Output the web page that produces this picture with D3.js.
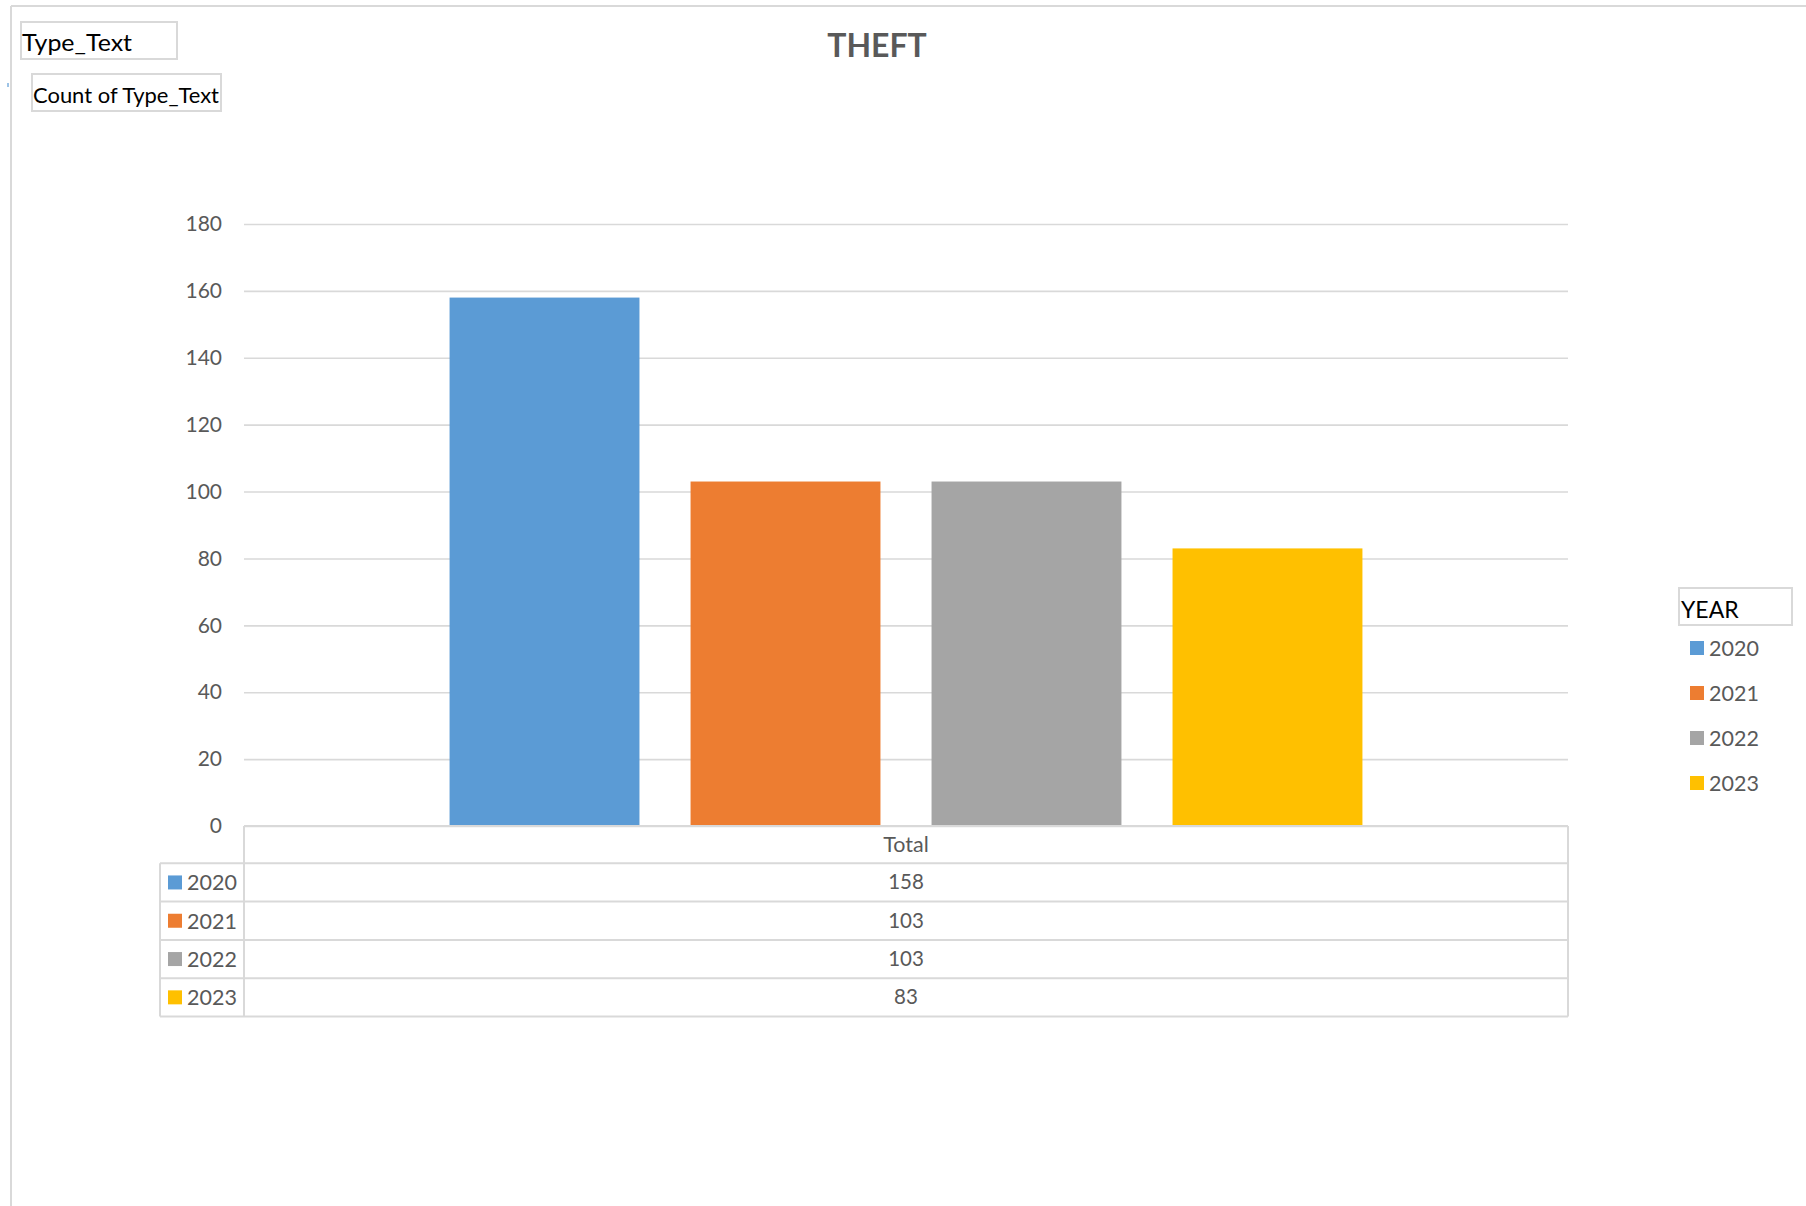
<!DOCTYPE html>
<html><head><meta charset="utf-8">
<script src="https://cdn.jsdelivr.net/npm/d3@7"></script>
<style>body{margin:0;background:#fff}svg{display:block}text{font-family:Lato,"Open Sans",sans-serif}</style>
</head><body>
<script>
const categories = ["Total"];
const years = ["2020","2021","2022","2023"];
const values = [158, 103, 103, 83];
const yTicks = [0,20,40,60,80,100,120,140,160,180];
const colors = ["#5B9BD5","#ED7D31","#A5A5A5","#FFC000"];

const W = 1806, H = 1206;
const svg = d3.select("body").append("svg").attr("width", W).attr("height", H);
const grid = "#d9d9d9", txt = "#595959";

// chart frame
svg.append("line").attr("x1",11).attr("x2",W).attr("y1",6).attr("y2",6).attr("stroke",grid).attr("stroke-width",2);
svg.append("line").attr("x1",11).attr("x2",11).attr("y1",6).attr("y2",H).attr("stroke",grid).attr("stroke-width",2);
svg.append("rect").attr("x",7).attr("y",83).attr("width",2).attr("height",4).attr("fill","#9dc3e6");

const pLeft = 244, pRight = 1568, pTop = 224, pBottom = 826;
const y = d3.scaleLinear().domain([0,180]).range([pBottom, pTop]);
const x0 = d3.scaleBand().domain(categories).range([pLeft, pRight]);
const x1 = d3.scaleBand().domain(years).range([0, x0.bandwidth()]).paddingInner(0.212).paddingOuter(0.853);

// gridlines + ticks
const yAxis = d3.axisLeft(y).tickValues(yTicks).tickSize(-(pRight-pLeft)).tickPadding(22);
const ga = svg.append("g").attr("transform",`translate(${pLeft},0)`).call(yAxis);
ga.select(".domain").remove();
ga.selectAll(".tick line").attr("stroke",grid).attr("stroke-width",1.6);
ga.selectAll(".tick text").attr("fill",txt).style("font-size","21px").style("font-family","Lato");

// bars
svg.append("g").selectAll("rect").data(years).join("rect")
  .attr("x", d => x0("Total") + x1(d))
  .attr("width", x1.bandwidth())
  .attr("y", (d,i) => y(values[i]))
  .attr("height", (d,i) => pBottom - y(values[i]))
  .attr("fill", (d,i) => colors[i]);

// title
svg.append("text").attr("x",877).attr("y",57).attr("text-anchor","middle")
  .attr("fill",txt).style("font-size","32px").style("font-weight","bold").text("THEFT");

// field buttons
svg.append("rect").attr("x",21).attr("y",22).attr("width",156).attr("height",37).attr("fill","none").attr("stroke",grid).attr("stroke-width",2);
svg.append("text").attr("x",22).attr("y",51).attr("fill","#000").style("font-size","24px")
  .attr("textLength",110).attr("lengthAdjust","spacingAndGlyphs").text("Type_Text");
svg.append("rect").attr("x",32).attr("y",74).attr("width",189).attr("height",37).attr("fill","none").attr("stroke",grid).attr("stroke-width",2);
svg.append("text").attr("x",33).attr("y",103).attr("fill","#000").style("font-size","21px")
  .attr("textLength",186).attr("lengthAdjust","spacingAndGlyphs").text("Count of Type_Text");

// legend
svg.append("rect").attr("x",1679).attr("y",588).attr("width",113).attr("height",37).attr("fill","none").attr("stroke",grid).attr("stroke-width",2);
svg.append("text").attr("x",1681).attr("y",618).attr("fill","#000").style("font-size","23px").text("YEAR");
const lg = svg.append("g").selectAll("g").data(years).join("g")
  .attr("transform",(d,i)=>`translate(1690,${641 + i*45})`);
lg.append("rect").attr("width",14).attr("height",14).attr("fill",(d,i)=>colors[i]);
lg.append("text").attr("x",19).attr("y",15).attr("fill",txt).style("font-size","21.5px").text(d=>d);

// data table
const rowH = 38.3, tTop = pBottom, hdrB = 863.3, tLeft = 160;
const tl = svg.append("g").attr("stroke",grid).attr("stroke-width",2);
tl.append("line").attr("x1",pLeft).attr("x2",pRight).attr("y1",tTop).attr("y2",tTop);
for (let k=0;k<=years.length;k++){
  const yy = hdrB + k*rowH;
  tl.append("line").attr("x1",tLeft).attr("x2",pRight).attr("y1",yy).attr("y2",yy);
}
const tBot = hdrB + years.length*rowH;
tl.append("line").attr("x1",pLeft).attr("x2",pLeft).attr("y1",tTop).attr("y2",tBot);
tl.append("line").attr("x1",pRight).attr("x2",pRight).attr("y1",tTop).attr("y2",tBot);
tl.append("line").attr("x1",tLeft).attr("x2",tLeft).attr("y1",hdrB).attr("y2",tBot);

const cx = x0("Total") + x0.bandwidth()/2;
svg.append("text").attr("x",cx).attr("y",(tTop+hdrB)/2+7).attr("text-anchor","middle").attr("fill",txt).style("font-size","21.5px").text(categories[0]);
const rows = svg.append("g").selectAll("g").data(years).join("g")
  .attr("transform",(d,i)=>`translate(0,${hdrB + i*rowH})`);
rows.append("rect").attr("x",168).attr("y",rowH/2-7).attr("width",14).attr("height",14).attr("fill",(d,i)=>colors[i]);
rows.append("text").attr("x",187).attr("y",rowH/2+8).attr("fill",txt).style("font-size","21.5px").text(d=>d);
rows.append("text").attr("x",cx).attr("y",rowH/2+7).attr("text-anchor","middle").attr("fill",txt).style("font-size","20.5px").text((d,i)=>values[i]);
</script>
</body></html>
